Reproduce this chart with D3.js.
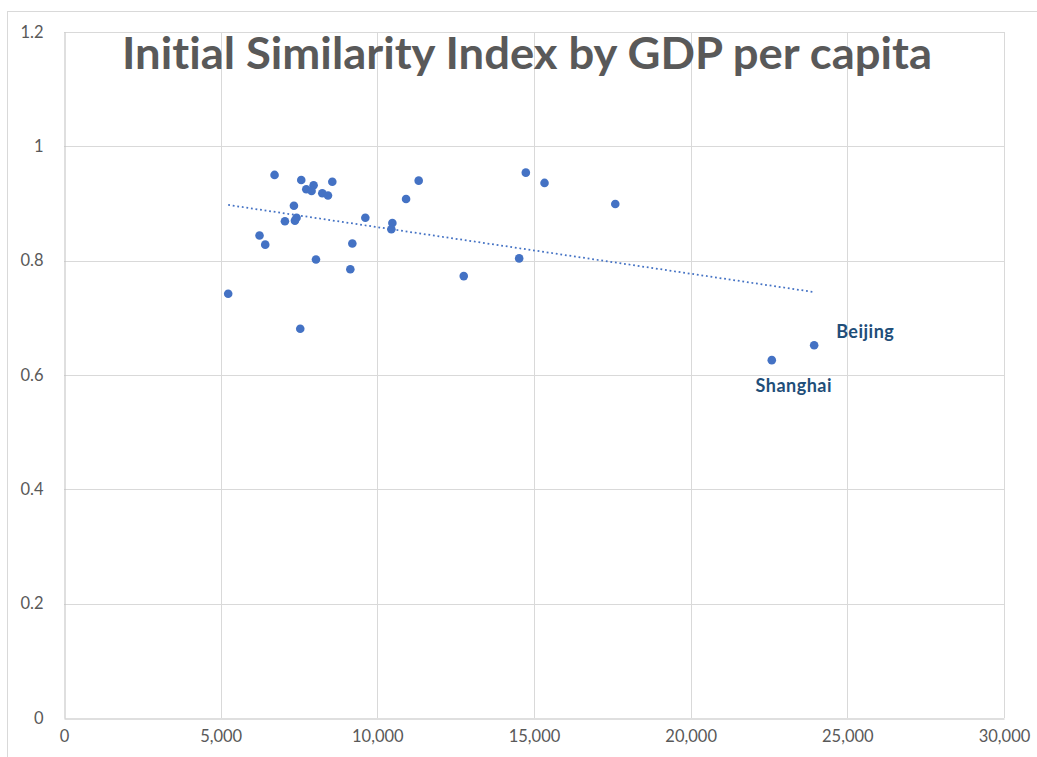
<!DOCTYPE html>
<html>
<head>
<meta charset="utf-8">
<script src="https://cdn.jsdelivr.net/npm/d3@7"></script>
<style>
  html, body { margin: 0; padding: 0; background: #fff; }
  svg { display: block; }
  text { font-variant-ligatures: none; }
</style>
</head>
<body>
<svg id="chart" width="1037" height="757"></svg>
<script>
// GDP per capita (x) and initial similarity index (y), one entry per province
const gdpPerCapita = [
  6720, 7572, 7966, 7732, 7902, 8563, 8243, 8425, 7338, 7422,
  7370, 7051, 6240, 6422, 8042, 9617, 10480, 10448, 9202, 9138,
  5240, 7540, 10917, 11320, 14739, 15336, 17594, 14527, 12758,
  23941, 22589
];
const similarityIndex = [
  0.950, 0.941, 0.932, 0.925, 0.922, 0.938, 0.918, 0.914, 0.896, 0.875,
  0.870, 0.869, 0.844, 0.828, 0.802, 0.875, 0.866, 0.855, 0.830, 0.785,
  0.742, 0.681, 0.908, 0.940, 0.954, 0.936, 0.899, 0.804, 0.773,
  0.652, 0.626
];
const pointNames = [
  "", "", "", "", "", "", "", "", "", "",
  "", "", "", "", "", "", "", "", "", "",
  "", "", "", "", "", "", "", "", "",
  "Beijing", "Shanghai"
];

const xTicks = [0, 5000, 10000, 15000, 20000, 25000, 30000];
const yTicks = [0, 0.2, 0.4, 0.6, 0.8, 1, 1.2];
const titleText = "Initial Similarity Index by GDP per capita";

const svg = d3.select("#chart");
const plot = { left: 64, right: 1004, top: 32, bottom: 718 };

const x = d3.scaleLinear().domain([0, 30000]).range([plot.left, plot.right]);
const y = d3.scaleLinear().domain([0, 1.2]).range([plot.bottom, plot.top]);

// chart frame
svg.append("rect")
  .attr("x", 7.5).attr("y", 11.5)
  .attr("width", 1100).attr("height", 800)
  .attr("fill", "none").attr("stroke", "#d9d9d9").attr("stroke-width", 1);

// gridlines
svg.append("g").selectAll("line.h").data(yTicks.filter(d => d > 0)).join("line")
  .attr("x1", plot.left).attr("x2", plot.right)
  .attr("y1", d => Math.round(y(d)) + 0.5).attr("y2", d => Math.round(y(d)) + 0.5)
  .attr("stroke", "#d9d9d9").attr("stroke-width", 1);
svg.append("g").selectAll("line.v").data(xTicks.filter(d => d > 0)).join("line")
  .attr("x1", d => Math.round(x(d)) + 0.5).attr("x2", d => Math.round(x(d)) + 0.5)
  .attr("y1", plot.top).attr("y2", plot.bottom)
  .attr("stroke", "#d9d9d9").attr("stroke-width", 1);

// axes
const fmtX = d3.format(",");
const xAxis = d3.axisBottom(x).tickValues(xTicks).tickFormat(d => fmtX(d)).tickSize(0).tickPadding(18);
const yAxis = d3.axisLeft(y).tickValues(yTicks).tickFormat(d => String(+d.toFixed(1))).tickSize(0).tickPadding(21);

const gx = svg.append("g").attr("transform", `translate(0,${plot.bottom + 0.5})`).call(xAxis);
const gy = svg.append("g").attr("transform", `translate(${plot.left + 0.5},0)`).call(yAxis);
[gx, gy].forEach(g => {
  g.select(".domain").attr("stroke", "#bfbfbf").attr("stroke-width", 1);
  g.selectAll("text")
    .attr("fill", "#595959")
    .style("font-family", "Lato, 'Open Sans', sans-serif")
    .style("font-size", "16.5px");
});
gx.selectAll("text").attr("dy", "0.35em");

// linear trendline fitted to the points
const n = gdpPerCapita.length;
const mx = d3.mean(gdpPerCapita), my = d3.mean(similarityIndex);
let sxy = 0, sxx = 0;
for (let i = 0; i < n; i++) {
  sxy += (gdpPerCapita[i] - mx) * (similarityIndex[i] - my);
  sxx += (gdpPerCapita[i] - mx) ** 2;
}
const slope = sxy / sxx, intercept = my - slope * mx;
const [x0, x1] = d3.extent(gdpPerCapita);
svg.append("line")
  .attr("x1", x(x0)).attr("y1", y(intercept + slope * x0))
  .attr("x2", x(x1)).attr("y2", y(intercept + slope * x1))
  .attr("stroke", "#4472c4").attr("stroke-width", 1.75)
  .attr("stroke-dasharray", "1.8 2.8");

// points
const pts = gdpPerCapita.map((g, i) => ({ g, s: similarityIndex[i], name: pointNames[i] }));
svg.append("g").selectAll("circle").data(pts).join("circle")
  .attr("cx", d => x(d.g)).attr("cy", d => y(d.s)).attr("r", 4.3)
  .attr("fill", "#4472c4");

// point labels
const labelOffsets = { "Beijing": [22, -7, "start"], "Shanghai": [22, 32, "middle"] };
svg.append("g").selectAll("text").data(pts.filter(d => d.name)).join("text")
  .attr("x", d => x(d.g) + labelOffsets[d.name][0])
  .attr("y", d => y(d.s) + labelOffsets[d.name][1])
  .attr("text-anchor", d => labelOffsets[d.name][2])
  .attr("fill", "#1f4e79")
  .style("font-family", "Lato, 'Open Sans', sans-serif")
  .style("font-weight", "bold")
  .style("font-size", "18px")
  .style("letter-spacing", "0.5px")
  .text(d => d.name);

// title
svg.append("text")
  .attr("x", 527).attr("y", 69)
  .attr("text-anchor", "middle")
  .attr("textLength", 810).attr("lengthAdjust", "spacingAndGlyphs")
  .attr("fill", "#595959")
  .style("font-family", "Lato, 'Open Sans', sans-serif")
  .style("font-weight", "bold")
  .style("font-size", "43px")
  .text(titleText);
</script>
</body>
</html>
